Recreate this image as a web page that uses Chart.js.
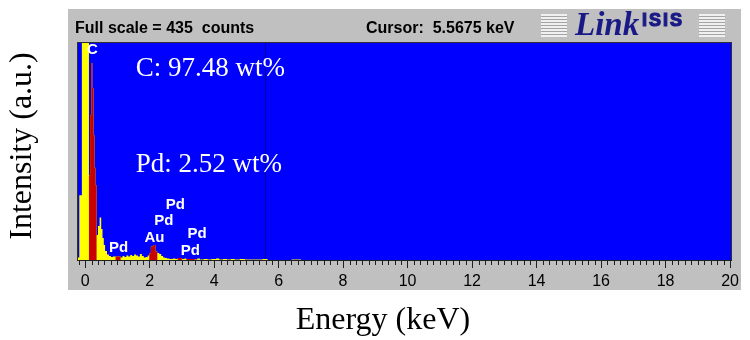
<!DOCTYPE html>
<html>
<head>
<meta charset="utf-8">
<script src="https://cdn.jsdelivr.net/npm/chart.js@4.4.0/dist/chart.umd.min.js"></script>
<style>
  html, body { margin: 0; padding: 0; background: #fff; }
  canvas { display: block; }
</style>
</head>
<body>
<canvas id="eds" width="750" height="340"></canvas>
<script>
// channel start energies (keV) of the spectrum
const spectrumEnergy = [
  -0.22, -0.18, -0.10, 0.12, 0.155, 0.19, 0.225, 0.26, 0.29, 0.32,
  0.356, 0.40, 0.45, 0.50, 0.54, 0.58, 0.62, 0.68, 0.74, 0.80,
  0.86, 0.945, 1.10, 1.16, 1.22, 1.28, 1.34, 1.40, 1.46, 1.52,
  1.58, 1.64, 1.70, 1.76, 1.82, 1.88, 1.94, 1.99, 2.04, 2.11,
  2.18, 2.24, 2.30, 2.36, 2.42, 2.48, 2.54, 2.62, 2.72, 2.80,
  2.87, 3.00, 3.08, 3.14, 3.40, 3.48, 3.56, 3.68, 3.80, 3.92,
  4.06, 4.16, 4.28, 4.40, 4.52, 4.64, 4.80, 4.96, 5.20, 5.50,
  5.66, 6.40, 6.70, 20.03
];
// counts per channel (yellow, full spectrum; the C peak runs off scale)
const spectrumCounts = [
  5, 130, 900, 170, 290, 395, 345, 250, 185, 150,
  50, 68, 85, 62, 44, 30, 18, 11, 8, 6,
  7, 7, 5, 8, 6, 9, 7, 10, 8, 11,
  9, 7, 12, 8, 5, 6, 9, 13, 27, 30,
  17, 14, 12, 8, 5, 4, 3, 2, 3, 2,
  4, 2, 3, 2, 1, 3, 1, 2, 1, 2,
  3, 1, 2, 1, 2, 1, 2, 1, 1, 2,
  0, 1, 0, 0
];
// counts inside the marked peak windows (red)
const roiCounts = [
  0, 0, 0, 170, 290, 395, 345, 250, 185, 150,
  0, 0, 0, 0, 0, 0, 0, 0, 0, 0,
  0, 7, 0, 0, 0, 0, 0, 0, 0, 0,
  0, 0, 0, 0, 0, 0, 0, 13, 27, 30,
  17, 0, 0, 0, 0, 0, 0, 0, 0, 0,
  4, 0, 0, 2, 0, 0, 0, 0, 0, 0,
  0, 0, 0, 0, 0, 0, 0, 0, 0, 0,
  0, 0, 0, 0
];

const peakLabels = ["C", "Pd", "Au", "Pd", "Pd", "Pd", "Pd"];
const peakLabelEnergy = [0.23, 1.04, 2.15, 2.44, 2.80, 3.47, 3.26];
const peakLabelCounts = [421, 24.5, 44.5, 78.6, 111, 51.7, 17.6];

const compositionText = ["C: 97.48 wt%", "Pd: 2.52 wt%"];
const compositionEnergy = [1.57, 1.57];
const compositionCounts = [369, 176];

const fullScale = 435;
const cursorEnergy = 5.5675;
const axisMin = -0.22;
const axisMax = 20.03;

function isMajor(v) {
  return Math.abs(Math.round(v * 10) % 20) === 0;
}

function stripes(ctx, x, y, w, h) {
  ctx.fillStyle = "#a4a4a4";
  ctx.fillRect(x, y, w, h);
  ctx.fillStyle = "#f0f0f0";
  for (let yy = y; yy < y + h; yy += 3) ctx.fillRect(x, yy, w, 2);
}

const panelPlugin = {
  id: "panel",
  beforeDraw(chart) {
    const { ctx, chartArea: a } = chart;
    ctx.save();
    ctx.fillStyle = "#ffffff";
    ctx.fillRect(0, 0, chart.width, chart.height);
    ctx.fillStyle = "#c0c0c0";
    ctx.fillRect(68, 9, 673, 281);

    ctx.fillStyle = "#000";
    ctx.textAlign = "left";
    ctx.textBaseline = "alphabetic";
    ctx.font = 'bold 16px "Liberation Sans", Arial, sans-serif';
    ctx.fillText(`Full scale = ${fullScale}  counts`, 75, 33);
    ctx.fillText(`Cursor:  ${cursorEnergy.toFixed(4)} keV`, 366, 33);

    stripes(ctx, 541, 14, 26, 22);
    stripes(ctx, 699, 14, 26, 22);
    ctx.fillStyle = "#1a1a86";
    ctx.strokeStyle = "#1a1a86";
    ctx.font = 'italic bold 33px "Liberation Serif", serif';
    ctx.fillText("Link", 575, 35);
    ctx.font = 'bold 18px "Liberation Sans", Arial, sans-serif';
    ctx.letterSpacing = "2px";
    ctx.lineWidth = 1.2;
    ctx.fillText("ISIS", 642, 26);
    ctx.strokeText("ISIS", 642, 26);
    ctx.letterSpacing = "0px";

    ctx.fillStyle = "#0000ff";
    ctx.fillRect(a.left, a.top, a.right - a.left, a.bottom - a.top);
    ctx.strokeStyle = "#303030";
    ctx.lineWidth = 1;
    ctx.strokeRect(a.left - 0.5, a.top - 0.5, a.right - a.left + 1, a.bottom - a.top + 1);

    ctx.fillStyle = "#000";
    ctx.font = '32px "Liberation Serif", "Times New Roman", serif';
    ctx.textAlign = "center";
    ctx.textBaseline = "middle";
    ctx.fillText("Energy (keV)", 383, 321);
    ctx.translate(22.5, 146);
    ctx.rotate(-Math.PI / 2);
    ctx.fillText("Intensity (a.u.)", 0, 0);
    ctx.restore();
  },
  beforeDatasetsDraw(chart) {
    const { ctx, chartArea: a, scales } = chart;
    const px = Math.round(scales.x.getPixelForValue(cursorEnergy)) + 0.5;
    ctx.save();
    ctx.strokeStyle = "#0000a0";
    ctx.lineWidth = 1;
    ctx.beginPath();
    ctx.moveTo(px, a.top);
    ctx.lineTo(px, a.bottom);
    ctx.stroke();
    ctx.restore();
  },
  afterDatasetsDraw(chart) {
    const { ctx, scales } = chart;
    ctx.save();
    ctx.fillStyle = "#ffffff";
    ctx.font = 'bold 15px "Liberation Sans", Arial, sans-serif';
    ctx.textAlign = "center";
    ctx.textBaseline = "middle";
    peakLabels.forEach((t, i) => {
      ctx.fillText(t, scales.x.getPixelForValue(peakLabelEnergy[i]), scales.y.getPixelForValue(peakLabelCounts[i]));
    });
    ctx.font = '27px "Liberation Serif", "Times New Roman", serif';
    ctx.textAlign = "left";
    ctx.textBaseline = "alphabetic";
    compositionText.forEach((t, i) => {
      ctx.fillText(t, scales.x.getPixelForValue(compositionEnergy[i]), scales.y.getPixelForValue(compositionCounts[i]));
    });
    ctx.restore();
  },
  afterDraw(chart) {
    const { ctx, chartArea: a, scales } = chart;
    ctx.save();
    ctx.strokeStyle = "#202020";
    ctx.lineWidth = 1;
    ctx.beginPath();
    scales.x.ticks.forEach((t) => {
      if (isMajor(t.value)) return;
      const px = Math.round(scales.x.getPixelForValue(t.value)) + 0.5;
      ctx.moveTo(px, a.bottom);
      ctx.lineTo(px, a.bottom + 5);
    });
    ctx.stroke();
    ctx.restore();
  },
};

const toPoints = (vals) => spectrumEnergy.map((e, i) => ({ x: e, y: vals[i] }));

new Chart(document.getElementById("eds"), {
  type: "line",
  data: {
    datasets: [
      {
        label: "ROI",
        data: toPoints(roiCounts),
        stepped: true,
        fill: "origin",
        backgroundColor: "#c80000",
        borderWidth: 0,
        pointRadius: 0,
        order: 0,
      },
      {
        label: "Spectrum",
        data: toPoints(spectrumCounts),
        stepped: true,
        fill: "origin",
        backgroundColor: "#ffff00",
        borderWidth: 0,
        pointRadius: 0,
        order: 1,
      },
    ],
  },
  options: {
    responsive: false,
    animation: false,
    events: [],
    layout: { padding: { left: 78, right: 19, top: 43, bottom: 44.8 } },
    plugins: { legend: { display: false }, tooltip: { enabled: false } },
    scales: {
      x: {
        type: "linear",
        min: axisMin,
        max: axisMax,
        grid: {
          display: true,
          drawOnChartArea: false,
          drawTicks: true,
          tickLength: 8,
          tickColor: (c) => (c.tick && isMajor(c.tick.value) ? "#202020" : "rgba(0,0,0,0)"),
        },
        border: { display: true, color: "#202020", width: 1 },
        ticks: {
          stepSize: 0.2,
          autoSkip: false,
          includeBounds: false,
          maxRotation: 0,
          minRotation: 0,
          padding: 4,
          color: "#000",
          font: { family: '"Liberation Sans Narrow", "Liberation Sans", Arial, sans-serif', size: 16 },
          callback: (v) => (isMajor(v) ? String(Math.round(v)) : ""),
        },
      },
      y: { display: false, min: 0, max: fullScale },
    },
  },
  plugins: [panelPlugin],
});
</script>
</body>
</html>
